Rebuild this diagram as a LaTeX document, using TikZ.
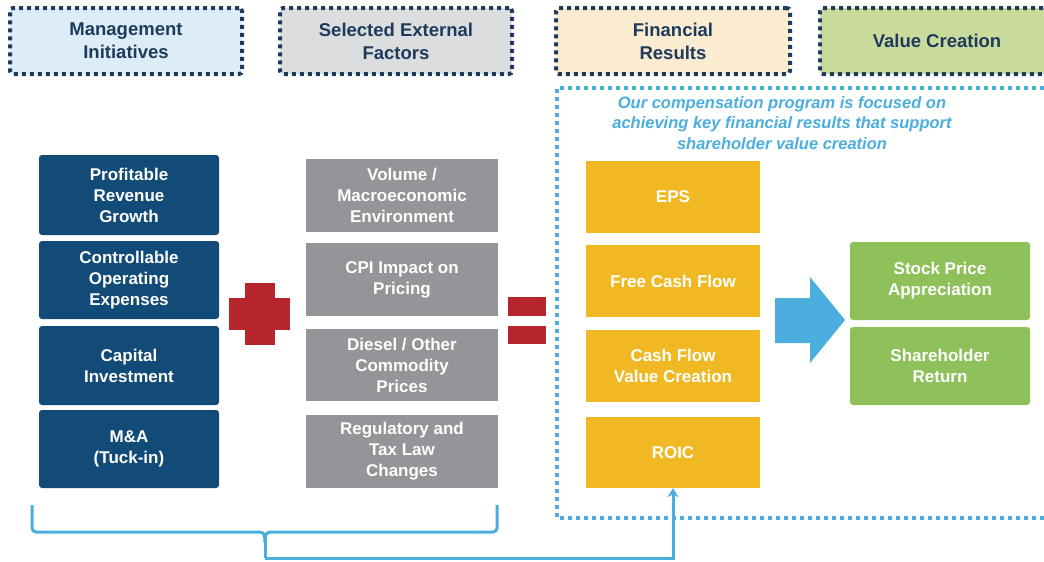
\documentclass[tikz,border=0pt]{standalone}
\usepackage{fontspec}
\setmainfont{Liberation Sans}
\usetikzlibrary{arrows.meta}
\definecolor{navyhdr}{HTML}{1E3B5C}
\definecolor{navybox}{HTML}{124B77}
\definecolor{graybox}{HTML}{939598}
\definecolor{yelbox}{HTML}{F0B823}
\definecolor{grnbox}{HTML}{8FC15B}
\definecolor{redsym}{HTML}{B5252B}
\definecolor{lblue}{HTML}{4BAEDC}
\definecolor{fillmi}{HTML}{DDEDF7}
\definecolor{fillsef}{HTML}{DCDDDE}
\definecolor{fillfr}{HTML}{FBEBD0}
\definecolor{fillvc}{HTML}{CADB9C}
\tikzset{
  hdr/.style={draw=navyhdr, line width=4pt, dash pattern=on 4pt off 4pt,
    rounded corners=3pt, minimum width=232pt, minimum height=66pt,
    text=navyhdr, font=\bfseries\fontsize{18.5}{23}\selectfont, align=center, inner sep=0pt},
  boxbase/.style={text=white, font=\bfseries\fontsize{17}{21}\selectfont,
    align=center, inner sep=0pt},
  navyb/.style={boxbase, fill=navybox, rounded corners=3pt, minimum width=180pt},
  grayb/.style={boxbase, fill=graybox, minimum width=192pt, minimum height=73pt},
  yelb/.style={boxbase, fill=yelbox, minimum width=174pt, minimum height=72pt},
  grnb/.style={boxbase, fill=grnbox, rounded corners=3pt, minimum width=180pt, minimum height=78pt},
  bluel/.style={draw=lblue, line width=3pt},
}
\begin{document}
\begin{tikzpicture}[x=1pt,y=-1pt]
\useasboundingbox (0,0) rectangle (1044,562);
\clip (0,0) rectangle (1044,562);
\fill[white] (0,0) rectangle (1044,562);

% header boxes
\node[hdr, fill=fillmi] (hmi) at (126,41) {Management\\Initiatives};
\node[hdr, fill=fillsef] (hsef) at (396,41) {Selected External\\Factors};
\node[hdr, fill=fillfr, minimum width=234pt] (hfr) at (673,41) {Financial\\Results};
\node[hdr, fill=fillvc, minimum width=234pt] (hvc) at (937,41) {Value Creation};

% blue dotted region
\draw[draw=lblue, line width=4pt, dash pattern=on 4pt off 4pt]
  (1060,88) -- (557,88) -- (557,518) -- (1060,518);
\node[text=lblue, font=\bfseries\itshape\fontsize{16.5}{20.5}\selectfont, align=center, inner sep=0pt]
  (note) at (782,123) {Our compensation program is focused on\\achieving key financial results that support\\shareholder value creation};

% management initiatives
\node[navyb, minimum height=80pt] (m1) at (129,195) {Profitable\\Revenue\\Growth};
\node[navyb, minimum height=78pt] (m2) at (129,280) {Controllable\\Operating\\Expenses};
\node[navyb, minimum height=79pt] (m3) at (129,365.5) {Capital\\Investment};
\node[navyb, minimum height=78pt] (m4) at (129,449) {M\&A\\(Tuck-in)};

% external factors
\node[grayb] (g1) at (402,195.5) {Volume /\\Macroeconomic\\Environment};
\node[grayb] (g2) at (402,279.5) {CPI Impact on\\Pricing};
\node[grayb, minimum height=72pt] (g3) at (402,365) {Diesel / Other\\Commodity\\Prices};
\node[grayb] (g4) at (402,451.5) {Regulatory and\\Tax Law\\Changes};

% financial results
\node[yelb] (f1) at (673,197) {EPS};
\node[yelb] (f2) at (673,281) {Free Cash Flow};
\node[yelb] (f3) at (673,366) {Cash Flow\\Value Creation};
\node[yelb, minimum height=71pt] (f4) at (673,452.5) {ROIC};

% value creation
\node[grnb] (v1) at (940,281) {Stock Price\\Appreciation};
\node[grnb] (v2) at (940,366) {Shareholder\\Return};

% plus sign
\fill[redsym] (245,283) rectangle (275,345);
\fill[redsym] (229,298) rectangle (290,330);
% equals sign
\fill[redsym] (508,297) rectangle (546,316);
\fill[redsym] (508,326) rectangle (546,344);

% big arrow
\fill[lblue] (775,298) -- (810,298) -- (810,277) -- (845,320) -- (810,363) -- (810,343) -- (775,343) -- cycle;

% brace
\coordinate (bt) at (265,558);
\draw[bluel, rounded corners=4pt] (32,505) -- (32,532) -- (259,532);
\draw[bluel, rounded corners=4pt] (497,505) -- (497,532) -- (271,532);
\draw[bluel] (259,532) .. controls (264,532) and (265,535) .. (265,542);
\draw[bluel] (271,532) .. controls (266,532) and (265,535) .. (265,542);
\draw[bluel] (265,540) -- (bt);
\draw[bluel, -{Stealth[length=9pt,width=11pt]}] (bt) -| (f4.south);
\end{tikzpicture}
\end{document}
